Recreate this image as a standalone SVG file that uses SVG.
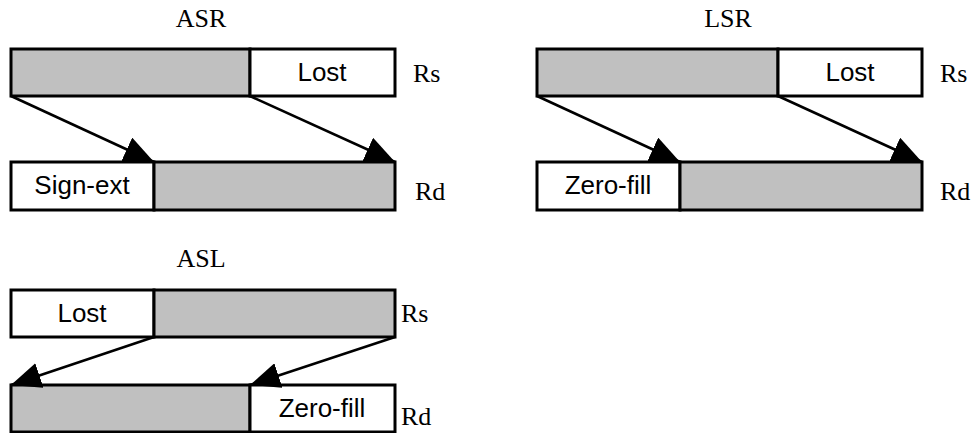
<svg xmlns="http://www.w3.org/2000/svg" width="974" height="433" viewBox="0 0 974 433">
<style>
.box{stroke:#000;stroke-width:3}
.g{fill:#c0c0c0}
.w{fill:#fff}
.lbl{font-family:"Liberation Sans",Arial,sans-serif;font-size:26px;text-anchor:middle;fill:#000}
.ttl{font-family:"Liberation Serif","Times New Roman",serif;font-size:26px;fill:#000}
.arr{stroke:#000;stroke-width:2.6;fill:none;marker-end:url(#ah)}
</style>
<defs>
<marker id="ah" markerUnits="userSpaceOnUse" markerWidth="32" markerHeight="26" viewBox="0 0 32 26" refX="30" refY="13" orient="auto">
<path d="M0,0 L30,13 L0,26 z" fill="#000"/>
</marker>
</defs>
<rect width="974" height="433" fill="#fff"/>
<g id="asr">
<text class="ttl" x="201" y="27" text-anchor="middle">ASR</text>
<g id="asr-rs">
<rect class="box g" x="11" y="49" width="239" height="47"/>
<rect class="box w" x="250" y="49" width="145" height="47"/>
<text class="lbl" x="322" y="81">Lost</text>
<text class="ttl" x="413" y="82">Rs</text>
</g>
<g id="asr-rd">
<rect class="box w" x="11" y="162" width="143" height="48"/>
<rect class="box g" x="154" y="162" width="241" height="48"/>
<text class="lbl" x="82" y="194">Sign-ext</text>
<text class="ttl" x="415" y="200">Rd</text>
</g>
</g>
<g id="lsr">
<text class="ttl" x="728" y="27" text-anchor="middle">LSR</text>
<g id="lsr-rs">
<rect class="box g" x="537" y="49" width="241" height="47"/>
<rect class="box w" x="778" y="49" width="144" height="47"/>
<text class="lbl" x="850" y="81">Lost</text>
<text class="ttl" x="940" y="82">Rs</text>
</g>
<g id="lsr-rd">
<rect class="box w" x="537" y="162" width="143" height="48"/>
<rect class="box g" x="680" y="162" width="242" height="48"/>
<text class="lbl" x="608" y="194">Zero-fill</text>
<text class="ttl" x="940" y="200">Rd</text>
</g>
</g>
<g id="asl">
<text class="ttl" x="201" y="267" text-anchor="middle">ASL</text>
<g id="asl-rs">
<rect class="box w" x="11" y="290" width="143" height="47"/>
<rect class="box g" x="154" y="290" width="241" height="47"/>
<text class="lbl" x="82" y="322">Lost</text>
<text class="ttl" x="401" y="322">Rs</text>
</g>
<g id="asl-rd">
<rect class="box g" x="11" y="385" width="239" height="47"/>
<rect class="box w" x="250" y="385" width="145" height="47"/>
<text class="lbl" x="322" y="417">Zero-fill</text>
<text class="ttl" x="401" y="425">Rd</text>
</g>
</g>
<g id="connectors">
<line class="arr" x1="11" y1="96" x2="154" y2="162"/>
<line class="arr" x1="250" y1="96" x2="395" y2="162"/>
<line class="arr" x1="537" y1="96" x2="680" y2="162"/>
<line class="arr" x1="778" y1="96" x2="922" y2="162"/>
<line class="arr" x1="154" y1="337" x2="11" y2="385"/>
<line class="arr" x1="395" y1="337" x2="250" y2="385"/>
</g>
</svg>
